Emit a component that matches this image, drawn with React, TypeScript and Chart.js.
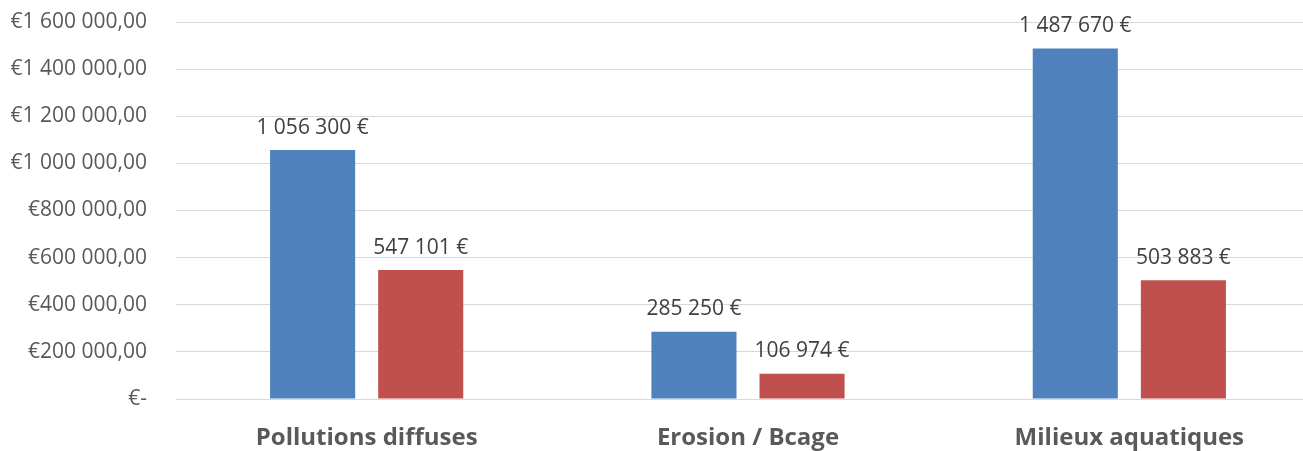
import React, { useEffect, useRef } from "react";
import { Chart, registerables } from "chart.js";

Chart.register(...registerables);

const categories = ["Pollutions diffuses", "Erosion / Bcage", "Milieux aquatiques"];
const seriesA = [1056300, 285250, 1487670];
const seriesB = [547101, 106974, 503883];
const yTicks = [0, 200000, 400000, 600000, 800000, 1000000, 1200000, 1400000, 1600000];

const groupFmt = (v: number) => String(Math.round(v)).replace(/\B(?=(\d{3})+(?!\d))/g, " ");
const tickFmt = (v: number) => (v === 0 ? "€-" : "€" + groupFmt(v) + ",00");
const labelFmt = (v: number) => groupFmt(v) + " €";

const dataLabels = {
  id: "dataLabels",
  afterDatasetsDraw(chart: any) {
    const ctx = chart.ctx;
    ctx.save();
    ctx.font = "21px 'Open Sans'";
    ctx.fillStyle = "#404040";
    ctx.textAlign = "center";
    ctx.textBaseline = "bottom";
    chart.data.datasets.forEach((ds: any, i: number) => {
      const meta = chart.getDatasetMeta(i);
      meta.data.forEach((el: any, j: number) => {
        ctx.fillText(labelFmt(ds.data[j]), el.x, el.y - 12);
      });
    });
    ctx.restore();
  },
};

export default function App() {
  const ref = useRef<HTMLCanvasElement>(null);
  useEffect(() => {
    if (!ref.current) return;
    const chart = new Chart(ref.current, {
      type: "bar",
      data: {
        labels: categories,
        datasets: [
          { label: "A", data: seriesA, backgroundColor: "#4F81BD", categoryPercentage: 0.567, barPercentage: 0.787 },
          { label: "B", data: seriesB, backgroundColor: "#C0504D", categoryPercentage: 0.567, barPercentage: 0.787 },
        ],
      },
      options: {
        animation: false,
        responsive: false,
        maintainAspectRatio: false,
        layout: { padding: { top: 22, left: 0, right: 0, bottom: 0 } },
        plugins: { legend: { display: false }, tooltip: { enabled: false } },
        scales: {
          x: {
            grid: { display: false, drawTicks: false },
            border: { display: true, color: "#D9D9D9", width: 1 },
            ticks: { color: "#595959", font: { family: "'Open Sans'", size: 24, weight: "bold" }, padding: 25 },
            afterFit: (s: any) => { s.height = 52; },
          },
          y: {
            min: 0,
            max: 1600000,
            grid: { color: "#D9D9D9", drawTicks: true, tickLength: 29, tickColor: "rgba(0,0,0,0)" },
            border: { display: false },
            afterBuildTicks: (s: any) => { s.ticks = yTicks.map((v) => ({ value: v })); },
            ticks: {
              color: "#595959",
              font: { family: "'Open Sans'", size: 21 },
              padding: 0,
              callback: (v: any) => tickFmt(Number(v)),
            },
            afterFit: (s: any) => { s.width = 176; },
          },
        },
      },
      plugins: [dataLabels],
    });
    return () => chart.destroy();
  }, []);
  return (
    <div style={{ position: "absolute", left: 0, top: 0, width: 1303, height: 451, overflow: "hidden", background: "#fff" }}>
      <canvas ref={ref} width={1320} height={451} style={{ display: "block" }} />
    </div>
  );
}
